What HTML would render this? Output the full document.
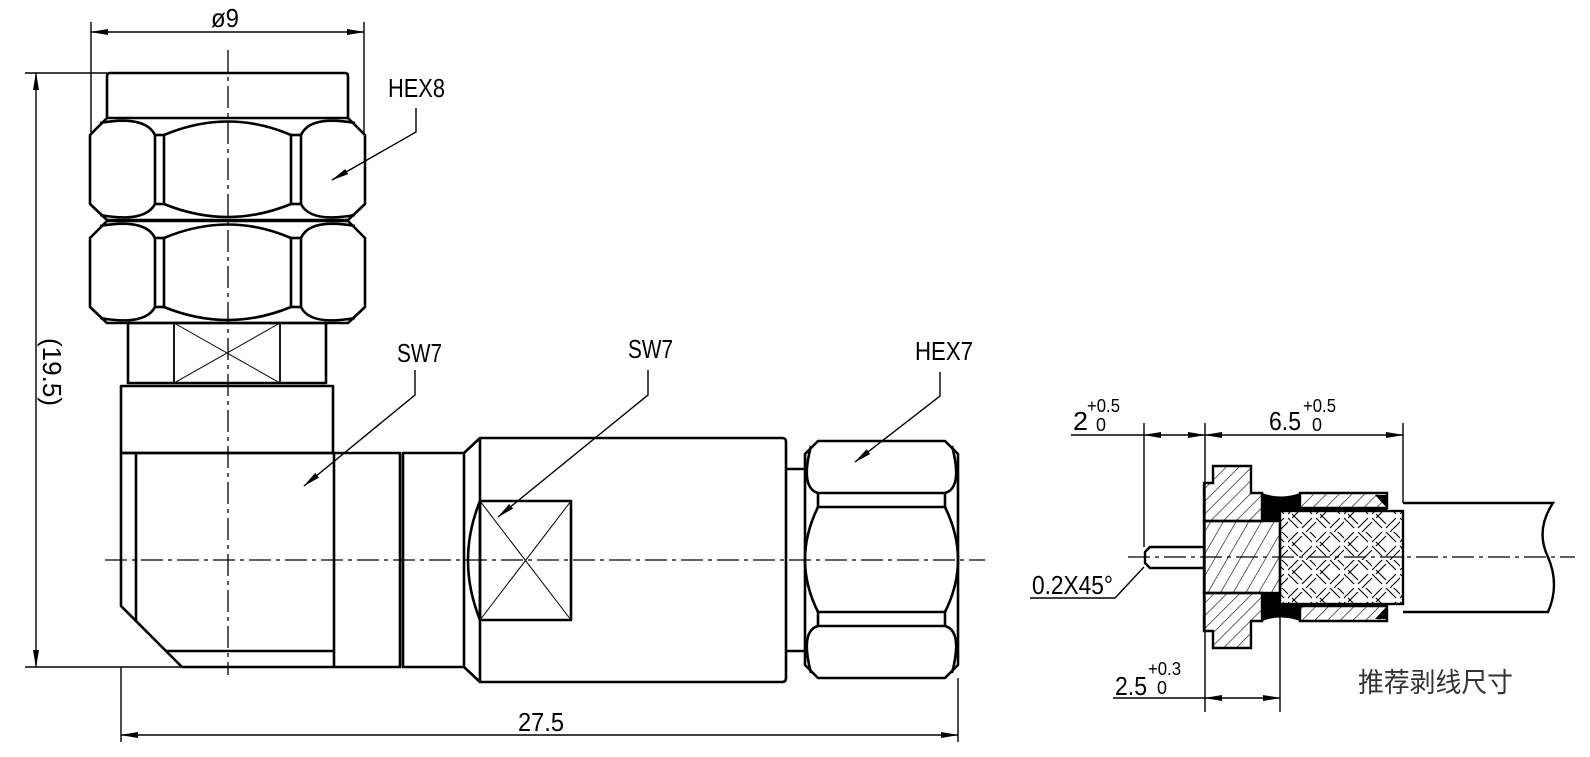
<!DOCTYPE html>
<html><head><meta charset="utf-8"><style>
html,body{margin:0;padding:0;background:#fff;}
svg{display:block;}
text{font-family:"Liberation Sans",sans-serif;fill:#000;}
</style></head><body>
<svg width="1590" height="757" viewBox="0 0 1590 757" xmlns="http://www.w3.org/2000/svg">
<defs>
<pattern id="h45" width="9" height="9" patternUnits="userSpaceOnUse" patternTransform="rotate(45)">
<line x1="0" y1="0" x2="0" y2="9" stroke="#000" stroke-width="1.2"/>
</pattern>
<pattern id="h60" width="11" height="11" patternUnits="userSpaceOnUse" patternTransform="rotate(30)">
<line x1="0" y1="0" x2="0" y2="11" stroke="#000" stroke-width="1.2"/>
</pattern>
<pattern id="braid" width="28" height="28" patternUnits="userSpaceOnUse">
<g stroke="#000" stroke-width="1.1">
<line x1="0" y1="10" x2="10" y2="0"/><line x1="4" y1="14" x2="14" y2="4"/>
<line x1="14" y1="24" x2="24" y2="14"/><line x1="18" y1="28" x2="28" y2="18"/>
<line x1="14" y1="0" x2="24" y2="10"/><line x1="18" y1="-4" x2="28" y2="6"/>
<line x1="0" y1="14" x2="10" y2="24"/><line x1="4" y1="10" x2="14" y2="20"/>
</g>
</pattern>
<marker id="ar" markerWidth="18" markerHeight="8" refX="17" refY="4" orient="auto" markerUnits="userSpaceOnUse">
<path d="M0,1 L18,4 L0,7 Z" fill="#000"/>
</marker>
<marker id="as" markerWidth="18" markerHeight="8" refX="1" refY="4" orient="auto" markerUnits="userSpaceOnUse">
<path d="M18,1 L0,4 L18,7 Z" fill="#000"/>
</marker>
</defs>

<g fill="none" stroke="#000" stroke-width="2.6" stroke-linejoin="round">
<path d="M107,118 L107,76 Q107,73 110,73 L345,73 Q348,73 348,76 L348,118"/>
<g id="hx">
<polygon points="107,118 348,118 365,135 365,204 348,220 107,220 90,204 90,135"/>
<line x1="155" y1="135" x2="155" y2="204"/><line x1="164" y1="135" x2="164" y2="204"/>
<line x1="291" y1="135" x2="291" y2="204"/><line x1="301" y1="135" x2="301" y2="204"/>
<line x1="155" y1="135" x2="164" y2="135"/><line x1="155" y1="204" x2="164" y2="204"/>
<line x1="291" y1="135" x2="301" y2="135"/><line x1="291" y1="204" x2="301" y2="204"/>
<path d="M100,123 Q145,115 155,135"/><path d="M100,215 Q145,223 155,204"/>
<path d="M355,123 Q310,115 301,135"/><path d="M355,215 Q310,223 301,204"/>
<path d="M164,135 Q228,108 291,135"/><path d="M164,204 Q228,230 291,204"/>
</g>
<use href="#hx" transform="translate(0,103)"/>
<rect x="128" y="323" width="198" height="60"/>
<line x1="174" y1="323" x2="174" y2="383" stroke-width="1.8"/><line x1="280" y1="323" x2="280" y2="383" stroke-width="1.8"/>
<line x1="174" y1="323" x2="280" y2="383" stroke-width="1"/><line x1="280" y1="323" x2="174" y2="383" stroke-width="1"/>
<rect x="121" y="386" width="212" height="67"/>
<path d="M121,453 L121,606 L182,667 L400,667 L400,453 Z"/>
<line x1="136" y1="453" x2="136" y2="621"/>
<line x1="166" y1="651" x2="334" y2="651"/>
<line x1="334" y1="453" x2="334" y2="667"/>
<rect x="403" y="453" width="61" height="214"/>
<path d="M464,453 L480,438 L782,438 Q786,438 786,442 L786,678 Q786,682 782,682 L480,682 L464,667"/>
<line x1="480" y1="438" x2="480" y2="682"/>
<path d="M480,501 Q456,560 480,620"/>
<rect x="480" y="501" width="91" height="119"/>
<line x1="480" y1="501" x2="571" y2="620" stroke-width="1"/><line x1="571" y1="501" x2="480" y2="620" stroke-width="1"/>
<line x1="786" y1="469" x2="805" y2="469"/><line x1="786" y1="651" x2="805" y2="651"/>
<polygon points="818,441 945,441 958,454 958,665 945,678 818,678 805,665 805,454"/>
<rect x="818" y="493" width="127" height="14"/>
<rect x="818" y="612" width="127" height="14"/>
<path d="M811,446 Q800,488 818,493"/><path d="M952,446 Q963,488 945,493"/>
<path d="M811,673 Q800,631 818,626"/><path d="M952,673 Q963,631 945,626"/>
<path d="M818,507 Q792,560 818,612"/><path d="M945,507 Q971,560 945,612"/>
</g>

<g stroke="#000" stroke-width="1.3" fill="none" stroke-dasharray="22,5,4,5">
<line x1="105" y1="560" x2="985" y2="560"/>
<line x1="228" y1="50" x2="228" y2="675"/>
<line x1="1128" y1="557" x2="1575" y2="557"/>
</g>

<g stroke="#000" stroke-width="1.4" fill="none">
<line x1="91" y1="22" x2="91" y2="135"/><line x1="364" y1="22" x2="364" y2="135"/>
<line x1="91" y1="32" x2="364" y2="32" marker-start="url(#as)" marker-end="url(#ar)"/>
<line x1="25" y1="73" x2="107" y2="73"/><line x1="25" y1="667" x2="182" y2="667"/>
<line x1="36" y1="73" x2="36" y2="667" marker-start="url(#as)" marker-end="url(#ar)"/>
<line x1="121" y1="667" x2="121" y2="742"/><line x1="958" y1="678" x2="958" y2="742"/>
<line x1="121" y1="735" x2="958" y2="735" marker-start="url(#as)" marker-end="url(#ar)"/>
<polyline points="416,108 416,132 332,180" marker-end="url(#ar)"/>
<polyline points="415,370 415,395 304,486" marker-end="url(#ar)"/>
<polyline points="648,370 648,395 498,517" marker-end="url(#ar)"/>
<polyline points="940,372 940,396 855,462" marker-end="url(#ar)"/>
</g>
<g font-size="26">
<text x="211" y="27" textLength="28" lengthAdjust="spacingAndGlyphs">ø9</text>
<text x="388" y="97" textLength="57" lengthAdjust="spacingAndGlyphs">HEX8</text>
<text x="397" y="362" textLength="45" lengthAdjust="spacingAndGlyphs">SW7</text>
<text x="628" y="358" textLength="45" lengthAdjust="spacingAndGlyphs">SW7</text>
<text x="915" y="360" textLength="58" lengthAdjust="spacingAndGlyphs">HEX7</text>
<text x="518" y="731" textLength="46" lengthAdjust="spacingAndGlyphs">27.5</text>
<text transform="translate(43,338) rotate(90)" textLength="68" lengthAdjust="spacingAndGlyphs">(19.5)</text>
</g>

<g stroke="#000" stroke-width="2.4" fill="none">
<path d="M1403,503 L1553,503 Q1535,530 1548,557 Q1560,585 1548,612 L1403,612"/>
<rect x="1280" y="511" width="123" height="93" fill="url(#braid)"/>
<rect x="1204" y="521" width="76" height="72" fill="url(#h60)"/>
<path d="M1204,483 L1213,483 L1213,466 L1251,466 L1251,493 L1262,493 L1262,521 L1204,521 Z" fill="url(#h45)"/>
<path d="M1204,631 L1213,631 L1213,648 L1251,648 L1251,621 L1262,621 L1262,593 L1204,593 Z" fill="url(#h45)"/>
<path d="M1300,493 L1387,493 L1387,508 L1300,508 Z" fill="url(#h45)"/>
<path d="M1300,606 L1387,606 L1387,621 L1300,621 Z" fill="url(#h45)"/>
<path d="M1204,547 L1150,547 L1145,552 L1145,563 L1150,568 L1204,568"/>
</g>
<g fill="#000">
<path d="M1262,493 Q1281,500 1300,493 L1300,508 L1387,508 L1375,495 L1387,495 L1387,511 L1280,511 L1280,521 L1262,521 Z"/>
<path d="M1262,621 Q1281,614 1300,621 L1300,606 L1387,606 L1375,619 L1387,619 L1387,604 L1280,604 L1280,593 L1262,593 Z"/>
</g>
<g stroke="#000" stroke-width="1.4" fill="none">
<line x1="1144" y1="423" x2="1144" y2="547"/>
<line x1="1205" y1="423" x2="1205" y2="712"/>
<line x1="1403" y1="423" x2="1403" y2="503"/>
<line x1="1280" y1="596" x2="1280" y2="712"/>
<line x1="1071" y1="435" x2="1144" y2="435"/>
<line x1="1144" y1="435" x2="1205" y2="435" marker-start="url(#as)" marker-end="url(#ar)"/>
<line x1="1205" y1="435" x2="1403" y2="435" marker-start="url(#as)" marker-end="url(#ar)"/>
<line x1="1113" y1="698" x2="1205" y2="698"/>
<line x1="1205" y1="698" x2="1280" y2="698" marker-start="url(#as)" marker-end="url(#ar)"/>
<polyline points="1030,598 1115,598 1144,567"/>
</g>
<g font-size="26">
<text x="1073" y="430" textLength="15" lengthAdjust="spacingAndGlyphs">2</text>
<text x="1087" y="412" font-size="18" textLength="33" lengthAdjust="spacingAndGlyphs">+0.5</text>
<text x="1096" y="431" font-size="18">0</text>
<text x="1269" y="430" textLength="32" lengthAdjust="spacingAndGlyphs">6.5</text>
<text x="1303" y="412" font-size="18" textLength="33" lengthAdjust="spacingAndGlyphs">+0.5</text>
<text x="1312" y="431" font-size="18">0</text>
<text x="1032" y="594" textLength="81" lengthAdjust="spacingAndGlyphs">0.2X45°</text>
<text x="1115" y="695" textLength="32" lengthAdjust="spacingAndGlyphs">2.5</text>
<text x="1148" y="675" font-size="18" textLength="33" lengthAdjust="spacingAndGlyphs">+0.3</text>
<text x="1157" y="694" font-size="18">0</text>
</g>
<text x="1358" y="692" font-size="27" textLength="155" lengthAdjust="spacingAndGlyphs" style="font-family:'Liberation Sans','Noto Sans CJK SC',sans-serif;fill:#333">推荐剥线尺寸</text>
</svg>
</body></html>
